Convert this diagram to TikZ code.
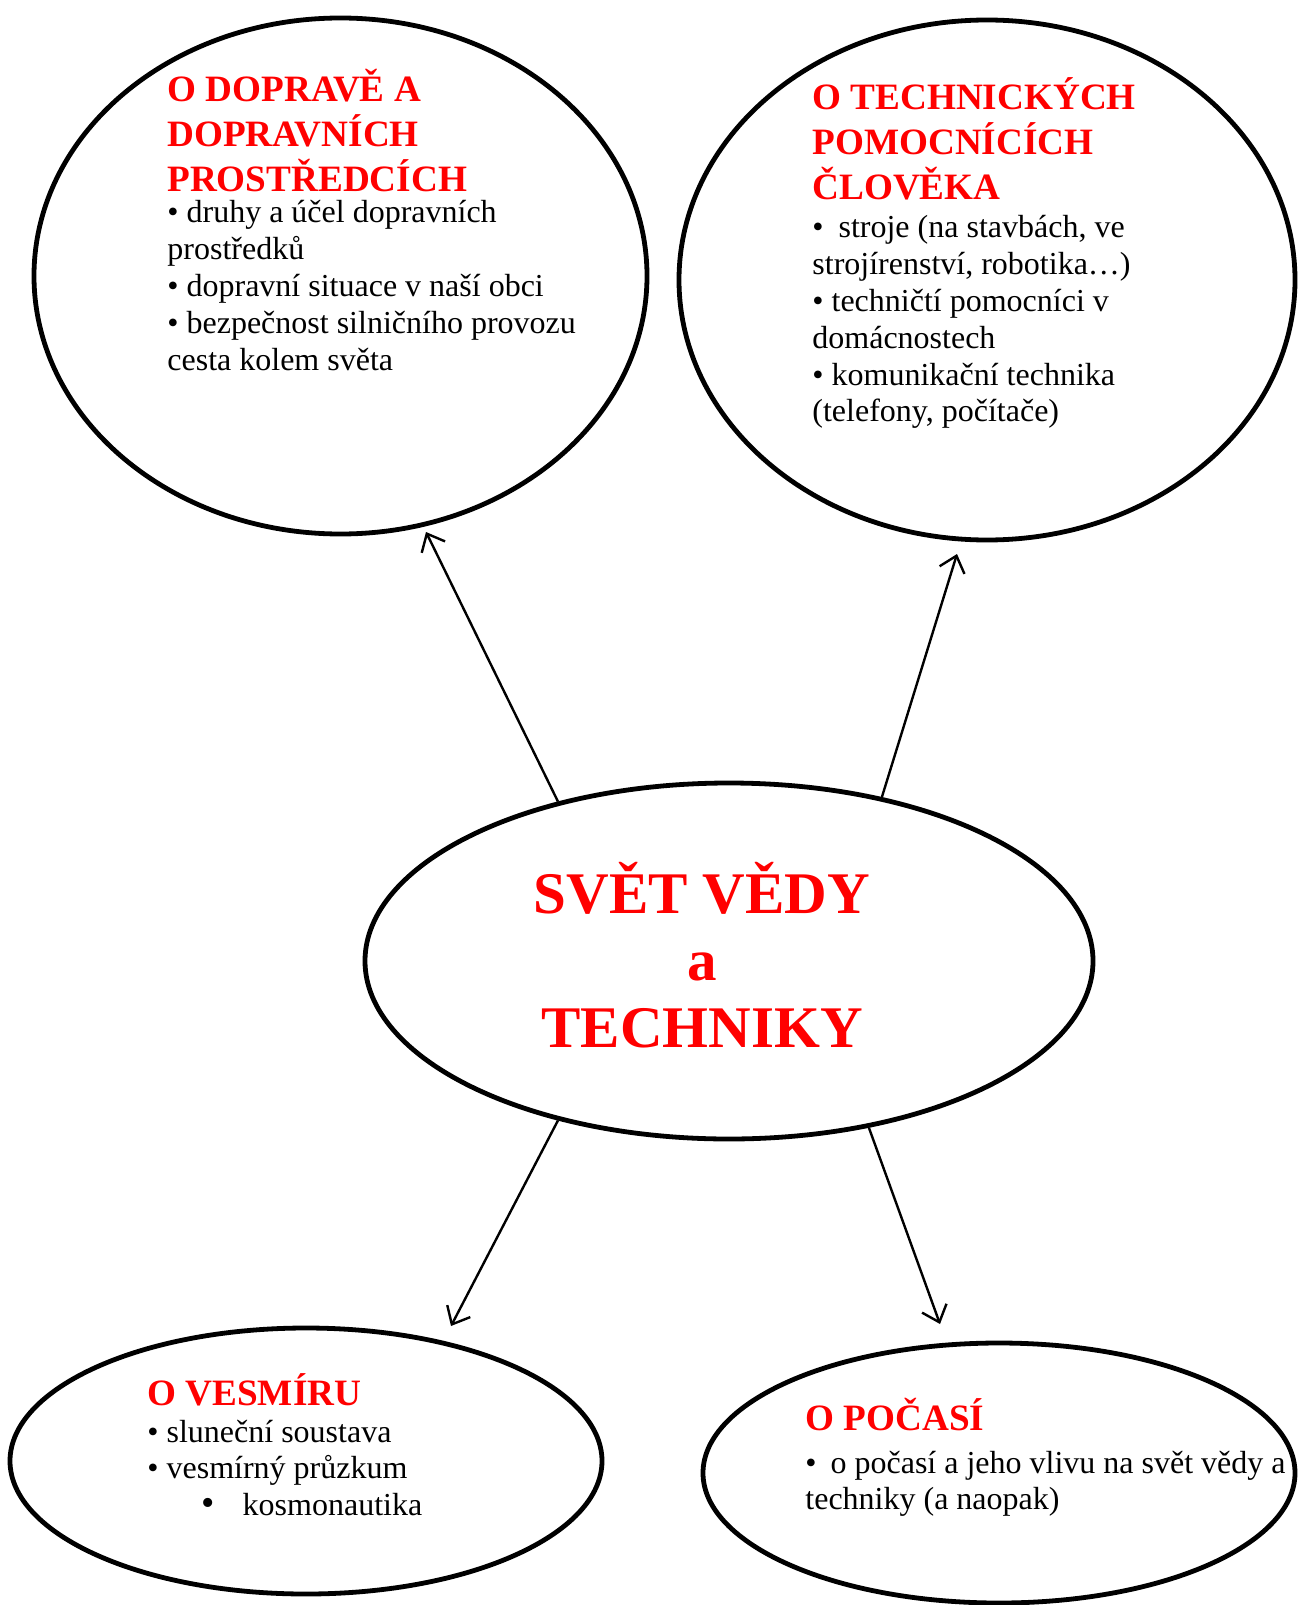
\documentclass[tikz,border=0pt]{standalone}
\usepackage{fontspec}
\setmainfont{Liberation Serif}
\usetikzlibrary{shapes.geometric,arrows.meta}
\tikzset{
  bubble/.style={ellipse, draw, line width=2.4pt, inner sep=0pt},
  head/.style={anchor=base west, inner sep=0pt, text=red, font=\fontsize{18.6}{21.25}\selectfont\bfseries},
  body/.style={anchor=base west, inner sep=0pt, font=\fontsize{16}{18.4}\selectfont},
  big/.style={anchor=base, inner sep=0pt, text=red, font=\fontsize{29.5}{33.5}\selectfont\bfseries},
  link/.style={line width=1.2pt, -{Straight Barb[length=7.5pt,width=13pt]}}
}
\begin{document}
\begin{tikzpicture}[x=0.5pt,y=-0.5pt]
\useasboundingbox[fill=white] (0,0) rectangle (1298,1605);
% ellipses
\node[bubble, minimum width=306.5pt, minimum height=258pt] (tl) at (340.5,276) {};
\node[bubble, minimum width=308pt, minimum height=260pt] (tr) at (987,280) {};
\node[bubble, minimum width=364pt, minimum height=178pt] (c) at (729,961) {};
\node[bubble, minimum width=296pt, minimum height=133pt] (bl) at (306,1461) {};
\node[bubble, minimum width=296pt, minimum height=130pt] (br) at (999,1473) {};
% centre text
\node[big] (ctext) at (702,913) {\begin{tabular}[t]{@{}c@{}}SVĚT VĚDY\\a\\TECHNIKY\end{tabular}};
% top left
\node[head] (tlh) at (167,102) {\begin{tabular}[t]{@{}l@{}}O DOPRAVĚ A\\DOPRAVNÍCH\\PROSTŘEDCÍCH\end{tabular}};
\node[body] (tlb) at (167,223) {\begin{tabular}[t]{@{}l@{}}• druhy a účel dopravních\\prostředků\\• dopravní situace v naší obci\\• bezpečnost silničního provozu\\cesta kolem světa\end{tabular}};
% top right
\node[head] (trh) at (812,110) {\begin{tabular}[t]{@{}l@{}}O TECHNICKÝCH\\POMOCNÍCÍCH\\ČLOVĚKA\end{tabular}};
\node[body] (trb) at (812,238) {\begin{tabular}[t]{@{}l@{}}•\hspace{7.5pt}stroje (na stavbách, ve\\strojírenství, robotika…)\\• techničtí pomocníci v\\domácnostech\\• komunikační technika\\(telefony, počítače)\end{tabular}};
% bottom left
\node[head] (blh) at (147,1405) {O VESMÍRU};
\node[body] (blb) at (147,1442) {\begin{tabular}[t]{@{}l@{}}• sluneční soustava\\• vesmírný průzkum\\\hspace*{27pt}{\fontsize{19}{18.4}\selectfont •}\hspace{14pt}kosmonautika\end{tabular}};
% bottom right
\node[head] (brh) at (805,1430) {O POČASÍ};
\node[body] (brb) at (805,1473) {\begin{tabular}[t]{@{}l@{}}•\hspace{7pt}o počasí a jeho vlivu na svět vědy a\\techniky (a naopak)\end{tabular}};
% arrows
\coordinate (ptl) at (426,532);
\coordinate (ptr) at (957,554);
\coordinate (pbl) at (451,1326);
\coordinate (pbr) at (940,1324);
\draw[link] (c.137) -- (ptl);
\draw[link] (c.47.6) -- (ptr);
\draw[link] (c.223.6) -- (pbl);
\draw[link] (c.310.8) -- (pbr);
\end{tikzpicture}
\end{document}
